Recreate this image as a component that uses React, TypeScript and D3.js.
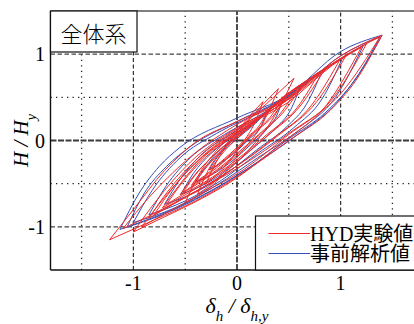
import * as d3 from "d3";

// normalized displacement / load (branches run left to right)
const hydUpper: number[][][] = [
  [[-1.23, -1.15], [-1.0, -0.8], [-0.7, -0.35], [-0.4, -0.02], [0, 0.22], [0.5, 0.5], [1.0, 0.98], [1.4, 1.22]],
  [[-1.1, -1.02], [-0.85, -0.66], [-0.48, -0.22], [0.02, 0.2], [0.51, 0.49], [1.01, 0.96], [1.38, 1.2]],
  [[-1.0, -1.06], [-0.78, -0.7], [-0.45, -0.25], [-0.01, 0.14], [0.43, 0.42], [0.87, 0.84], [1.2, 1.08]],
  [[-0.92, -1.0], [-0.7, -0.66], [-0.38, -0.24], [0.06, 0.145], [0.49, 0.44], [0.92, 0.87], [1.25, 1.12]],
  [[-0.85, -0.9], [-0.665, -0.585], [-0.39, -0.22], [-0.02, 0.12], [0.35, 0.36], [0.72, 0.73], [1.0, 0.95]],
  [[-0.8, -0.86], [-0.62, -0.55], [-0.34, -0.19], [0.03, 0.14], [0.4, 0.4], [0.77, 0.76], [1.05, 0.98]],
  [[-0.68, -0.74], [-0.53, -0.49], [-0.31, -0.2], [-0.01, 0.076], [0.28, 0.32], [0.58, 0.615], [0.8, 0.8]],
  [[-0.72, -0.78], [-0.56, -0.52], [-0.33, -0.2], [-0.01, 0.08], [0.3, 0.34], [0.61, 0.64], [0.85, 0.83]],
  [[-0.52, -0.6], [-0.41, -0.41], [-0.24, -0.19], [-0.02, 0.045], [0.21, 0.256], [0.43, 0.49], [0.6, 0.64]],
  [[-0.55, -0.63], [-0.43, -0.43], [-0.25, -0.2], [-0.01, 0.05], [0.23, 0.27], [0.47, 0.52], [0.65, 0.68]],
  [[-0.5, -0.72], [-0.38, -0.42], [-0.2, -0.12], [0.02, 0.14], [0.28, 0.42], [0.55, 0.72]],
  [[-0.38, -0.62], [-0.28, -0.35], [-0.12, -0.08], [0.05, 0.15], [0.22, 0.38], [0.4, 0.6]],
  [[-0.4, -0.48], [-0.315, -0.34], [-0.19, -0.17], [-0.02, 0.02], [0.15, 0.19], [0.32, 0.37], [0.45, 0.5]],
  [[-0.44, -0.52], [-0.35, -0.37], [-0.2, -0.18], [-0.02, 0.03], [0.17, 0.21], [0.36, 0.41], [0.5, 0.56]],
  [[-0.3, -0.5], [-0.2, -0.25], [-0.08, -0.02], [0.05, 0.18], [0.15, 0.32], [0.25, 0.45]],
  [[-0.26, -0.34], [-0.2, -0.24], [-0.12, -0.12], [0.0, 0.02], [0.1, 0.13], [0.22, 0.26], [0.3, 0.36]],
];
const hydLower: number[][][] = [
  [[-1.23, -1.15], [-0.8, -0.92], [-0.4, -0.7], [0, -0.42], [0.5, 0.0], [0.9, 0.35], [1.15, 0.7], [1.4, 1.22]],
  [[-1.1, -1.02], [-0.85, -0.876], [-0.48, -0.64], [0.02, -0.31], [0.51, 0.09], [1.01, 0.556], [1.38, 1.2]],
  [[-1.0, -1.06], [-0.78, -0.93], [-0.45, -0.74], [-0.01, -0.44], [0.43, -0.03], [0.87, 0.42], [1.2, 1.08]],
  [[-0.92, -1.0], [-0.7, -0.85], [-0.38, -0.64], [0.06, -0.34], [0.49, 0.06], [0.92, 0.48], [1.25, 1.12]],
  [[-0.85, -0.9], [-0.665, -0.77], [-0.39, -0.585], [-0.02, -0.31], [0.35, 0.025], [0.72, 0.41], [1.0, 0.95]],
  [[-0.8, -0.86], [-0.62, -0.74], [-0.34, -0.55], [0.03, -0.27], [0.4, 0.06], [0.77, 0.45], [1.05, 0.98]],
  [[-0.68, -0.74], [-0.53, -0.63], [-0.31, -0.48], [-0.01, -0.23], [0.28, 0.06], [0.58, 0.38], [0.8, 0.8]],
  [[-0.72, -0.78], [-0.56, -0.67], [-0.33, -0.51], [-0.01, -0.25], [0.3, 0.06], [0.61, 0.4], [0.85, 0.83]],
  [[-0.52, -0.6], [-0.41, -0.51], [-0.24, -0.38], [-0.02, -0.17], [0.21, 0.07], [0.43, 0.33], [0.6, 0.64]],
  [[-0.55, -0.63], [-0.43, -0.54], [-0.25, -0.4], [-0.01, -0.18], [0.23, 0.08], [0.47, 0.36], [0.65, 0.68]],
  [[-0.5, -0.72], [-0.3, -0.58], [-0.1, -0.36], [0.12, -0.1], [0.33, 0.22], [0.55, 0.72]],
  [[-0.38, -0.62], [-0.24, -0.5], [-0.08, -0.3], [0.08, -0.08], [0.24, 0.18], [0.4, 0.6]],
  [[-0.4, -0.48], [-0.315, -0.41], [-0.19, -0.29], [-0.02, -0.12], [0.15, 0.08], [0.32, 0.27], [0.45, 0.5]],
  [[-0.44, -0.52], [-0.35, -0.45], [-0.2, -0.32], [-0.02, -0.13], [0.17, 0.09], [0.36, 0.3], [0.5, 0.56]],
  [[-0.3, -0.5], [-0.18, -0.38], [-0.05, -0.2], [0.07, 0.0], [0.17, 0.2], [0.25, 0.45]],
  [[-0.26, -0.34], [-0.2, -0.29], [-0.12, -0.21], [0.0, -0.08], [0.1, 0.04], [0.22, 0.18], [0.3, 0.36]],
];

const preUpper: number[][][] = [
  [[-1.13, -1.03], [-0.95, -0.62], [-0.75, -0.3], [-0.55, -0.08], [0, 0.26], [0.5, 0.53], [1.0, 1.03], [1.4, 1.22]],
  [[-1.06, -1.0], [-0.9, -0.62], [-0.68, -0.3], [-0.45, -0.07], [0.05, 0.25], [0.55, 0.55], [1.0, 0.98], [1.38, 1.2]],
  [[-1.0, -0.95], [-0.82, -0.58], [-0.55, -0.2], [-0.2, 0.08], [0.3, 0.38], [0.8, 0.8], [1.22, 1.1]],
  [[-0.85, -0.86], [-0.68, -0.52], [-0.45, -0.2], [-0.12, 0.07], [0.3, 0.35], [0.7, 0.7], [1.02, 0.96]],
  [[-0.7, -0.74], [-0.55, -0.45], [-0.35, -0.17], [-0.08, 0.06], [0.25, 0.3], [0.56, 0.58], [0.82, 0.8]],
  [[-0.54, -0.62], [-0.42, -0.38], [-0.25, -0.15], [-0.03, 0.05], [0.2, 0.25], [0.42, 0.46], [0.62, 0.65]],
  [[-0.4, -0.48], [-0.3, -0.3], [-0.17, -0.12], [0.0, 0.04], [0.16, 0.19], [0.32, 0.36], [0.45, 0.5]],
  [[-0.27, -0.34], [-0.18, -0.18], [-0.06, -0.04], [0.06, 0.08], [0.18, 0.2], [0.3, 0.36]],
];
const preLower: number[][][] = [
  [[-1.13, -1.03], [-0.7, -0.85], [-0.3, -0.62], [0.1, -0.33], [0.5, 0.02], [0.85, 0.32], [1.15, 0.72], [1.4, 1.22]],
  [[-1.06, -1.0], [-0.62, -0.8], [-0.22, -0.56], [0.2, -0.25], [0.6, 0.08], [0.95, 0.42], [1.18, 0.78], [1.38, 1.2]],
  [[-1.0, -0.95], [-0.6, -0.78], [-0.2, -0.52], [0.2, -0.2], [0.6, 0.12], [0.95, 0.5], [1.22, 1.1]],
  [[-0.85, -0.86], [-0.5, -0.7], [-0.15, -0.46], [0.2, -0.15], [0.55, 0.15], [0.82, 0.48], [1.02, 0.96]],
  [[-0.7, -0.74], [-0.4, -0.6], [-0.1, -0.38], [0.2, -0.1], [0.48, 0.16], [0.67, 0.42], [0.82, 0.8]],
  [[-0.54, -0.62], [-0.3, -0.5], [-0.06, -0.31], [0.16, -0.08], [0.37, 0.14], [0.52, 0.36], [0.62, 0.65]],
  [[-0.4, -0.48], [-0.22, -0.38], [-0.04, -0.23], [0.13, -0.05], [0.28, 0.12], [0.38, 0.28], [0.45, 0.5]],
  [[-0.27, -0.34], [-0.14, -0.25], [0.0, -0.12], [0.12, 0.02], [0.22, 0.14], [0.3, 0.36]],
];

const xTicks = [-1, 0, 1];
const yTicks = [-1, 0, 1];
const dashedGrid = [-1, 1];
const dottedGridX = [-1.5, -0.5, 0.5, 1.5];
const dottedGridY = [-0.5, 0.5];

const RED = "#ee2b2b";
const BLUE = "#3550b4";
const serif = "'Liberation Serif', 'Times New Roman', serif";
const cjk = "'Liberation Serif', 'Noto Sans CJK JP', serif";

export default function App() {
  const W = 414;
  const H = 324;
  const x = d3.scaleLinear().domain([-1.8, 1.8]).range([50.5, 423.5]);
  const y = d3.scaleLinear().domain([-1.5, 1.5]).range([270, 11]);
  const [x0, x1] = x.range();
  const [y0, y1] = y.range();

  const line = d3
    .line<number[]>()
    .x((d) => x(d[0]))
    .y((d) => y(d[1]))
    .curve(d3.curveMonotoneX);

  const branches = (list: number[][][], color: string, key: string) =>
    list.map((b, i) => (
      <path key={key + i} d={line(b) ?? undefined} fill="none" stroke={color} strokeWidth={1} strokeLinejoin="round" />
    ));

  return (
    <svg width={W} height={H} style={{ position: "absolute", left: 0, top: 0, background: "#fff" }}>
      <defs>
        <clipPath id="plot">
          <rect x={x0} y={y1} width={x1 - x0} height={y0 - y1} />
        </clipPath>
      </defs>

      {/* grid */}
      <g stroke="#222" fill="none">
        {dottedGridX.map((v) => (
          <line key={"dx" + v} x1={x(v)} x2={x(v)} y1={y0} y2={y1} strokeDasharray="1.3,4.2" strokeWidth={1.3} />
        ))}
        {dottedGridY.map((v) => (
          <line key={"dy" + v} x1={x0} x2={x1} y1={y(v)} y2={y(v)} strokeDasharray="1.3,4.2" strokeWidth={1.3} />
        ))}
        {dashedGrid.map((v) => (
          <line key={"gx" + v} x1={x(v)} x2={x(v)} y1={y0} y2={y1} strokeDasharray="4,2.5" strokeWidth={1.2} stroke="#333" />
        ))}
        {dashedGrid.map((v) => (
          <line key={"gy" + v} x1={x0} x2={x1} y1={y(v)} y2={y(v)} strokeDasharray="4.5,2.5" strokeWidth={1.4} stroke="#444" />
        ))}
        <line x1={x(0)} x2={x(0)} y1={y0} y2={y1} strokeDasharray="6,1.5" strokeWidth={1.8} stroke="#3a3a3a" />
        <line x1={x0} x2={x1} y1={y(0)} y2={y(0)} strokeDasharray="6,1.5" strokeWidth={1.8} stroke="#3a3a3a" />
      </g>

      <g clipPath="url(#plot)">
        {branches(preUpper, BLUE, "pu")}
        {branches(preLower, BLUE, "pl")}
        {branches(hydUpper, RED, "hu")}
        {branches(hydLower, RED, "hl")}
      </g>

      {/* frame */}
      <line x1={x0} x2={x1} y1={y1} y2={y1} stroke="#555" strokeWidth={1.6} />
      <line x1={x0} x2={x0} y1={y0} y2={y1} stroke="#111" strokeWidth={1.4} />
      <line x1={x0} x2={x1} y1={y0} y2={y0} stroke="#111" strokeWidth={1.4} />

      {/* ticks */}
      {yTicks.map((v) => (
        <text key={"yt" + v} x={45} y={y(v)} textAnchor="end" dominantBaseline="central" fontFamily={serif} fontSize={20}>
          {v}
        </text>
      ))}
      {xTicks.map((v) => (
        <text key={"xt" + v} x={x(v)} y={290} textAnchor="middle" fontFamily={serif} fontSize={20}>
          {v}
        </text>
      ))}

      {/* axis titles */}
      <text
        transform={`translate(28,${y(0)}) rotate(-90)`}
        textAnchor="middle"
        fontFamily={serif}
        fontSize={21}
        fontStyle="italic"
      >
        H / H<tspan baselineShift="sub" fontSize={14}>y</tspan>
      </text>
      <text x={x(0)} y={313} textAnchor="middle" fontFamily={serif} fontSize={22} fontStyle="italic">
        δ<tspan baselineShift="sub" fontSize={15}>h</tspan>
        <tspan> / δ</tspan>
        <tspan baselineShift="sub" fontSize={15}>h,y</tspan>
      </text>

      {/* panel label */}
      <rect x={x0} y={y1} width={86.5} height={41} fill="#fff" stroke="#111" strokeWidth={1.2} />
      <text x={x0 + 43} y={y1 + 21} textAnchor="middle" dominantBaseline="central" fontFamily="'Noto Sans CJK JP'" fontWeight={300} fontSize={22}>
        全体系
      </text>

      {/* legend */}
      <rect x={255.5} y={216} width={180} height={y0 - 216} fill="#fff" stroke="#111" strokeWidth={1.2} />
      <line x1={268.5} x2={310} y1={233.5} y2={233.5} stroke={RED} strokeWidth={1} />
      <line x1={268.5} x2={310} y1={253.5} y2={253.5} stroke={BLUE} strokeWidth={1} />
      <text x={310} y={233.5} dominantBaseline="central" fontFamily={cjk} fontSize={20}>
        HYD実験値
      </text>
      <text x={310} y={253.5} dominantBaseline="central" fontFamily={cjk} fontSize={20}>
        事前解析値
      </text>
    </svg>
  );
}
